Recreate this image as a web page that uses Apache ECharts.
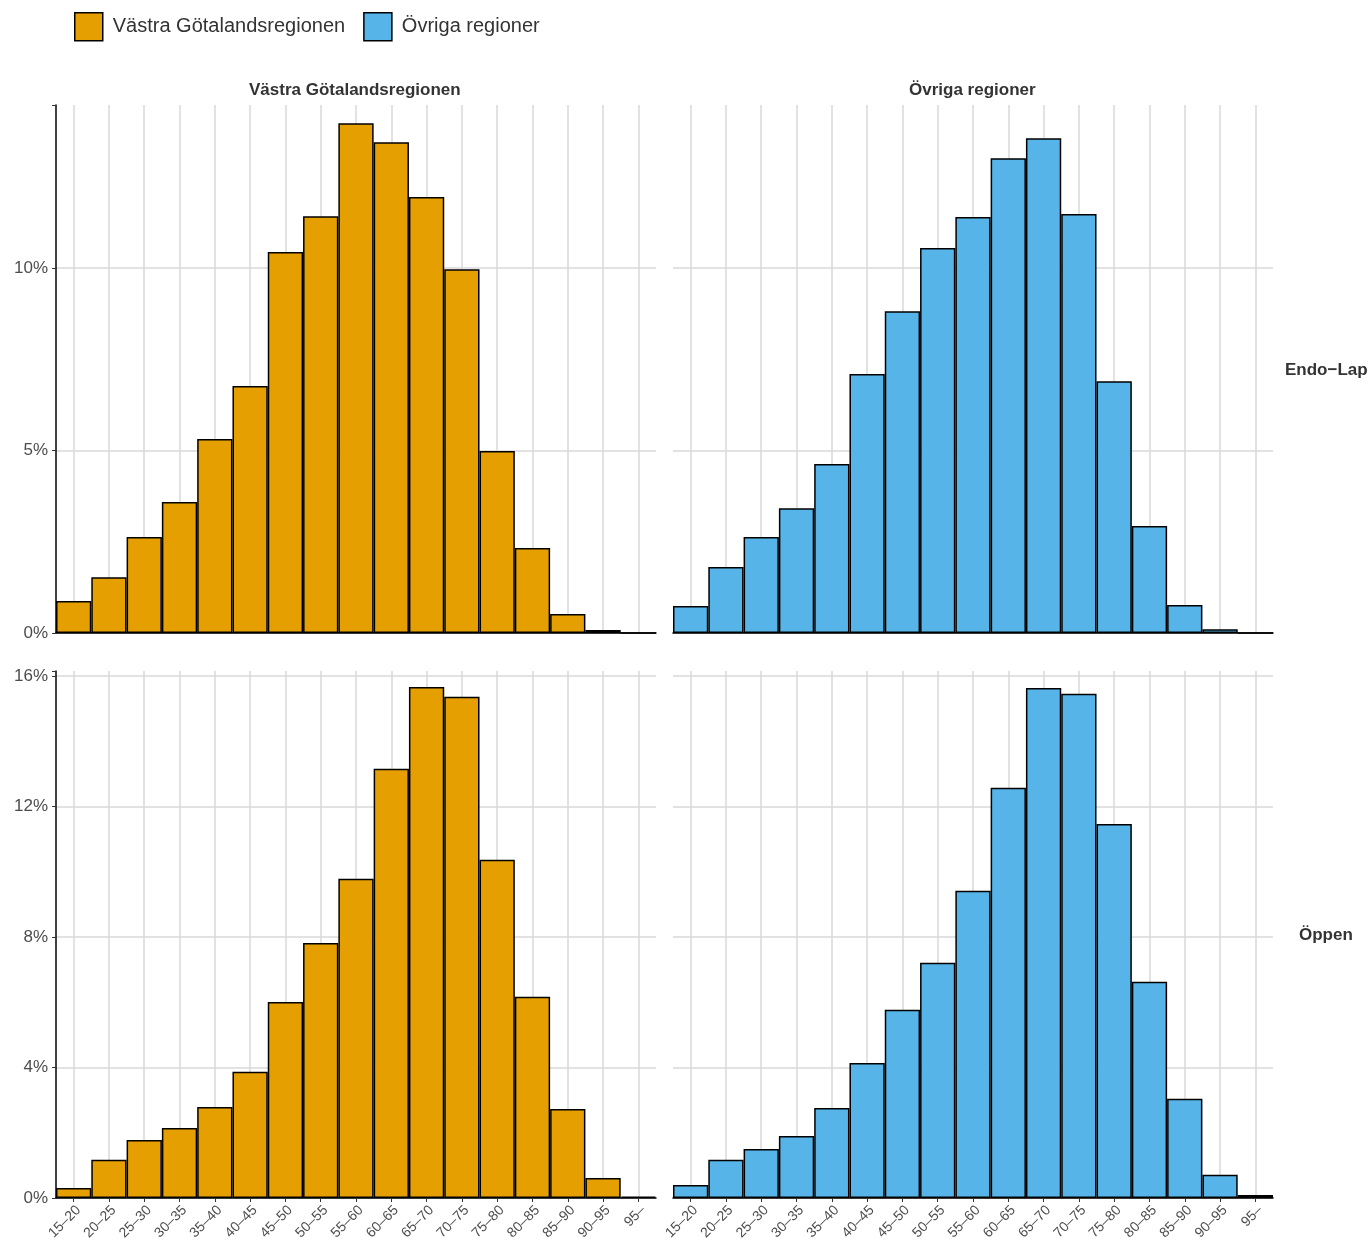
<!DOCTYPE html>
<html>
<head>
<meta charset="utf-8">
<title>Åldersfördelning</title>
<script src="https://cdn.jsdelivr.net/npm/echarts@6/dist/echarts.min.js"></script>
<style>
  html, body { margin: 0; padding: 0; background: #fff; }
  #chart { width: 1370px; height: 1245px; }
</style>
</head>
<body>
<div id="chart"></div>
<script>
"use strict";

var ageGroups = ["15–20", "20–25", "25–30", "30–35", "35–40", "40–45", "45–50", "50–55",
  "55–60", "60–65", "65–70", "70–75", "75–80", "80–85", "85–90", "90–95", "95–"];

// andel i procent per åldersgrupp
var endoLapVgr = [0.88, 1.53, 2.63, 3.59, 5.32, 6.77, 10.44, 11.42, 13.97, 13.45, 11.95, 9.97, 4.99, 2.33, 0.52, 0.08, 0];
var endoLapOvriga = [0.74, 1.81, 2.63, 3.42, 4.63, 7.10, 8.82, 10.55, 11.40, 13.01, 13.56, 11.48, 6.90, 2.93, 0.77, 0.10, 0];
var oppenVgr = [0.31, 1.17, 1.78, 2.15, 2.79, 3.87, 6.01, 7.82, 9.79, 13.16, 15.67, 15.37, 10.37, 6.17, 2.73, 0.61, 0.04];
var oppenOvriga = [0.40, 1.17, 1.50, 1.90, 2.76, 4.14, 5.77, 7.21, 9.42, 12.58, 15.64, 15.46, 11.47, 6.63, 3.04, 0.71, 0.09];

var regionNames = ["Västra Götalandsregionen", "Övriga regioner"];
var operationNames = ["Endo−Lap", "Öppen"];
var regionColors = ["#E69F00", "#56B4E9"];

var chart = echarts.init(document.getElementById("chart"));

var fontFamily = "'Liberation Sans', Arial, sans-serif";
var gridColor = "#D9D9D9";

function makeXAxis(gridIndex, showLabels) {
  return {
    type: "category",
    gridIndex: gridIndex,
    data: ageGroups,
    boundaryGap: true,
    axisLine: { show: true, lineStyle: { color: "#000", width: 1.5 } },
    axisTick: {
      show: showLabels,
      alignWithLabel: true,
      length: 4,
      lineStyle: { color: "#333", width: 1 },
    },
    axisLabel: {
      show: showLabels,
      interval: 0,
      rotate: 45,
      verticalAlign: "top",
      fontSize: 14,
      color: "#4D4D4D",
      margin: 5,
      fontFamily: fontFamily,
    },
    splitLine: {
      show: true,
      interval: 0,
      alignWithLabel: true,
      lineStyle: { color: gridColor, width: 1.5 },
    },
  };
}

function makeYAxis(gridIndex, max, interval, showLabels) {
  return {
    type: "value",
    gridIndex: gridIndex,
    min: 0,
    max: max,
    interval: interval,
    axisLine: { show: showLabels, lineStyle: { color: "#000", width: 1.5 } },
    axisTick: { show: showLabels, length: 4, lineStyle: { color: "#333" } },
    axisLabel: {
      show: showLabels,
      fontSize: 17,
      color: "#4D4D4D",
      margin: 8,
      fontFamily: fontFamily,
      formatter: function (v) {
        return Math.abs(v % interval) < 1e-9 ? v + "%" : "";
      },
    },
    splitLine: {
      show: true,
      showMaxLine: false,
      lineStyle: { color: gridColor, width: 1.5 },
    },
  };
}

function makeSeries(name, idx, data, color) {
  return {
    name: name,
    type: "bar",
    xAxisIndex: idx,
    yAxisIndex: idx,
    data: data,
    barCategoryGap: "0%",
    itemStyle: { color: color, borderColor: "#000", borderWidth: 1.5 },
    emphasis: { disabled: true },
  };
}

var stripStyle = { fontSize: 17, fontWeight: "bold", fill: "#333", fontFamily: fontFamily };

chart.setOption({
  animation: false,
  textStyle: { fontFamily: fontFamily },
  legend: {
    data: regionNames,
    left: 69,
    top: 7,
    itemWidth: 28,
    itemHeight: 28,
    itemGap: 18,
    icon: "rect",
    itemStyle: { borderColor: "#000", borderWidth: 1.5 },
    textStyle: { fontSize: 20, color: "#333", padding: [0, 0, 0, 5] },
  },
  grid: [
    { left: 56, top: 105, width: 600, height: 528 },
    { left: 673, top: 105, width: 600, height: 528 },
    { left: 56, top: 671, width: 600, height: 527 },
    { left: 673, top: 671, width: 600, height: 527 },
  ],
  xAxis: [
    makeXAxis(0, false),
    makeXAxis(1, false),
    makeXAxis(2, true),
    makeXAxis(3, true),
  ],
  yAxis: [
    makeYAxis(0, 14.47, 5, true),
    makeYAxis(1, 14.47, 5, false),
    makeYAxis(2, 16.16, 4, true),
    makeYAxis(3, 16.16, 4, false),
  ],
  series: [
    makeSeries(regionNames[0], 0, endoLapVgr, regionColors[0]),
    makeSeries(regionNames[1], 1, endoLapOvriga, regionColors[1]),
    makeSeries(regionNames[0], 2, oppenVgr, regionColors[0]),
    makeSeries(regionNames[1], 3, oppenOvriga, regionColors[1]),
  ],
  graphic: [
    { type: "text", left: 249, top: 82, style: Object.assign({ text: regionNames[0] }, stripStyle) },
    { type: "text", left: 909, top: 82, style: Object.assign({ text: regionNames[1] }, stripStyle) },
    { type: "text", left: 1285, top: 362, style: Object.assign({ text: operationNames[0] }, stripStyle) },
    { type: "text", left: 1299, top: 927, style: Object.assign({ text: operationNames[1] }, stripStyle) },
  ],
});

window.addEventListener("resize", function () {
  chart.resize();
});
</script>
</body>
</html>
